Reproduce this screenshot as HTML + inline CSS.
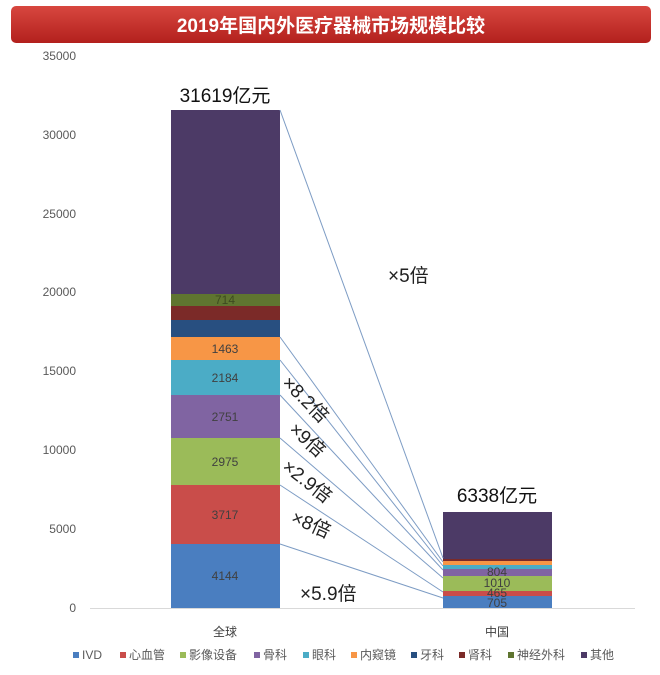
<!DOCTYPE html>
<html><head><meta charset="utf-8"><style>
body{margin:0;background:#fff;}
svg{display:block;font-family:"Liberation Sans","Noto Sans CJK SC",sans-serif;}
</style></head><body>
<svg width="660" height="675" viewBox="0 0 660 675">
<defs><linearGradient id="g" x1="0" y1="0" x2="0" y2="1"><stop offset="0" stop-color="#d8473f"/><stop offset="1" stop-color="#b3201d"/></linearGradient></defs>
<rect x="11" y="6" width="640" height="37" rx="5" fill="url(#g)"/>
<text x="331" y="32" text-anchor="middle" font-size="19" font-weight="bold" fill="#fff">2019年国内外医疗器械市场规模比较</text>
<g font-size="12" fill="#595959" text-anchor="end">
<text x="76" y="612">0</text><text x="76" y="533">5000</text><text x="76" y="454">10000</text><text x="76" y="375">15000</text><text x="76" y="296">20000</text><text x="76" y="218">25000</text><text x="76" y="139">30000</text><text x="76" y="60">35000</text>
</g>
<line x1="90" y1="608.5" x2="635" y2="608.5" stroke="#d9d9d9"/>
<rect x="171" y="544" width="109" height="64" fill="#4a7ec0"/>
<rect x="171" y="485" width="109" height="59" fill="#c94d4a"/>
<rect x="171" y="438" width="109" height="47" fill="#9bbb59"/>
<rect x="171" y="395" width="109" height="43" fill="#8064a2"/>
<rect x="171" y="360" width="109" height="35" fill="#4bacc6"/>
<rect x="171" y="337" width="109" height="23" fill="#f79646"/>
<rect x="171" y="320" width="109" height="17" fill="#284f80"/>
<rect x="171" y="306" width="109" height="14" fill="#7b2a28"/>
<rect x="171" y="294" width="109" height="12" fill="#5f7530"/>
<rect x="171" y="110" width="109" height="184" fill="#4c3a66"/>
<g font-size="12" fill="#404040" text-anchor="middle">
<text x="225" y="580">4144</text><text x="225" y="519">3717</text><text x="225" y="466">2975</text><text x="225" y="421">2751</text><text x="225" y="382">2184</text><text x="225" y="353">1463</text><text x="225" y="304" fill="#3d4a20">714</text>
</g>
<rect x="443" y="596" width="109" height="12" fill="#4a7ec0"/>
<rect x="443" y="591" width="109" height="5" fill="#c94d4a"/>
<rect x="443" y="576" width="109" height="15" fill="#9bbb59"/>
<rect x="443" y="569" width="109" height="7" fill="#8064a2"/>
<rect x="443" y="565" width="109" height="4" fill="#4bacc6"/>
<rect x="443" y="561" width="109" height="4" fill="#f79646"/>
<rect x="443" y="559" width="109" height="2" fill="#7b2a28"/>
<rect x="443" y="512" width="109" height="47" fill="#4c3a66"/>
<g font-size="12" fill="#404040" text-anchor="middle">
<text x="497" y="607">705</text><text x="497" y="597">465</text><text x="497" y="587">1010</text><text x="497" y="576">804</text>
</g>
<g stroke="#7d9cc4" stroke-width="1">
<line x1="280" y1="110" x2="443" y2="558"/>
<line x1="280" y1="337" x2="443" y2="562"/>
<line x1="280" y1="360" x2="443" y2="566"/>
<line x1="280" y1="395" x2="443" y2="570"/>
<line x1="280" y1="438" x2="443" y2="578"/>
<line x1="280" y1="485" x2="443" y2="592"/>
<line x1="280" y1="544" x2="443" y2="598"/>
</g>
<text x="225" y="102" text-anchor="middle" font-size="19" fill="#111">31619亿元</text>
<text x="497" y="502" text-anchor="middle" font-size="19" fill="#111">6338亿元</text>
<g font-size="19" fill="#222">
<text x="388" y="282">×5倍</text>
<text transform="translate(281,384) rotate(45)">×8.2倍</text>
<text transform="translate(288,431) rotate(42)">×9倍</text>
<text transform="translate(281,469) rotate(38)">×2.9倍</text>
<text transform="translate(290,522) rotate(24)">×8倍</text>
<text x="300" y="600">×5.9倍</text>
</g>
<g font-size="12" fill="#404040" text-anchor="middle">
<text x="225" y="636">全球</text><text x="497" y="636">中国</text>
</g>
<g font-size="12" fill="#595959">
<rect x="73" y="652" width="6" height="6" fill="#4a7ec0"/><text x="82" y="659">IVD</text>
<rect x="120" y="652" width="6" height="6" fill="#c94d4a"/><text x="129" y="659">心血管</text>
<rect x="180" y="652" width="6" height="6" fill="#9bbb59"/><text x="189" y="659">影像设备</text>
<rect x="254" y="652" width="6" height="6" fill="#8064a2"/><text x="263" y="659">骨科</text>
<rect x="303" y="652" width="6" height="6" fill="#4bacc6"/><text x="312" y="659">眼科</text>
<rect x="351" y="652" width="6" height="6" fill="#f79646"/><text x="360" y="659">内窥镜</text>
<rect x="411" y="652" width="6" height="6" fill="#284f80"/><text x="420" y="659">牙科</text>
<rect x="459" y="652" width="6" height="6" fill="#7b2a28"/><text x="468" y="659">肾科</text>
<rect x="508" y="652" width="6" height="6" fill="#5f7530"/><text x="517" y="659">神经外科</text>
<rect x="581" y="652" width="6" height="6" fill="#4c3a66"/><text x="590" y="659">其他</text>
</g>
</svg>
</body></html>
